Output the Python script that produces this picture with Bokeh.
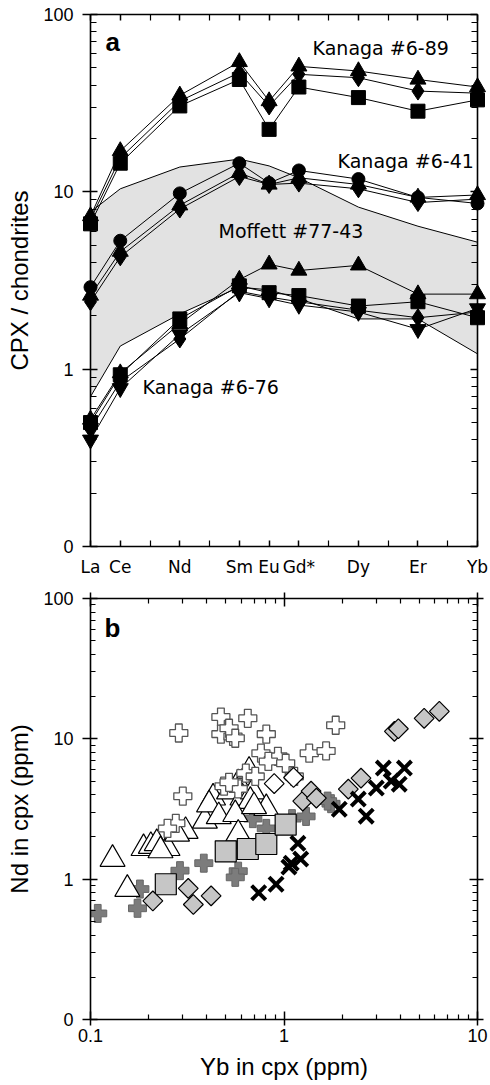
from bokeh.plotting import figure
from bokeh.layouts import column
from bokeh.models import (Range1d, LinearAxis, LogAxis, FixedTicker,
                          CustomJSTickFormatter, Label)
from bokeh.embed import file_html
from bokeh.resources import INLINE

# ---------------- Panel a data ----------------
ree = ["La", "Ce", "Nd", "Sm", "Eu", "Gd*", "Dy", "Er", "Yb"]
ree_z = [57, 58, 60, 62, 63, 64, 66, 68, 70]          # atomic numbers
other_z = [59, 61, 65, 67, 69]                        # unlabeled REE ticks

# Kanaga #6-89
k689_sq = [6.6, 14.5, 30.5, 43.0, 22.5, 39.0, 34.0, 28.5, 33.0]
k689_di = [7.0, 15.5, 32.5, 47.0, 30.5, 46.0, 44.0, 37.0, 36.0]
k689_tr = [7.3, 17.0, 35.0, 54.0, 32.5, 51.0, 48.0, 43.0, 39.0]
# Kanaga #6-41
k641_ci = [2.9, 5.3, 9.8, 14.5, 11.2, 13.2, 11.8, 9.3, 8.6]
k641_di = [2.4, 4.3, 8.0, 12.2, 11.0, 11.2, 10.4, 8.7, 9.1]
k641_tr = [2.6, 4.6, 8.4, 12.8, 11.0, 12.0, 11.0, 9.3, 9.6]
# Kanaga #6-76
k676_sq = [0.50, 0.93, 1.92, 2.95, 2.70, 2.60, 2.27, 2.40, 1.95]
k676_di = [0.46, 0.85, 1.48, 2.75, 2.55, 2.40, 2.15, 1.95, 2.10]
k676_tr = [0.52, 0.95, 1.80, 3.20, 3.90, 3.60, 3.85, 2.65, 2.65]
k676_it = [0.40, 0.78, 1.57, 2.70, 2.50, 2.30, 2.10, 1.68, 2.20]
# Moffett #77-43 field
moff_upper = [7.7, 10.4, 13.8, 15.3, 14.0, 12.0, 8.2, 6.4, 5.2]
moff_lower = [0.70, 1.35, 2.05, 2.90, 2.80, 2.50, 1.92, 1.92, 1.22]

# ---------------- Panel b data (Yb, Nd in cpx, ppm) ----------------
open_plus_yb = [0.286, 0.472, 0.65, 0.472, 0.545, 0.52, 0.81, 1.85, 1.35, 1.65, 0.76, 0.93,
                0.83, 1.02, 0.635, 0.71, 1.13, 0.49, 0.58, 0.30, 0.276, 0.25, 0.56, 0.52]
open_plus_nd = [11.0, 14.3, 14.0, 10.8, 10.4, 11.9, 10.8, 12.5, 7.9, 8.2, 7.9, 7.5,
                6.9, 6.7, 5.7, 5.4, 5.4, 4.6, 4.4, 3.9, 2.5, 2.3, 10.1, 4.9]
open_tri_yb = [0.13, 0.155, 0.188, 0.205, 0.22, 0.25, 0.23, 0.31, 0.28, 0.39, 0.43, 0.41,
               0.46, 0.52, 0.58, 0.61, 0.69, 0.67, 0.56, 0.81, 0.58, 0.66, 0.70]
open_tri_nd = [1.39, 0.85, 1.66, 1.72, 1.80, 1.66, 1.60, 2.2, 2.1, 2.6, 3.8, 3.4,
               2.8, 4.2, 4.8, 3.8, 4.2, 3.6, 2.9, 3.2, 2.1, 5.9, 3.3]
gray_sq_yb = [0.245, 0.50, 0.65, 0.81, 1.02]
gray_sq_nd = [0.92, 1.58, 1.64, 1.78, 2.45]
gray_di_yb = [0.21, 0.32, 0.34, 0.42, 1.25, 1.38, 1.47, 2.15, 2.5, 3.72, 3.9, 5.3, 6.35]
gray_di_nd = [0.70, 0.86, 0.66, 0.76, 3.6, 4.24, 3.78, 4.38, 5.25, 11.3, 11.8, 14.0, 15.7]
open_di_yb = [0.89, 1.12]
open_di_nd = [4.8, 5.3]
gray_plus_yb = [0.109, 0.18, 0.175, 0.29, 0.385, 0.58, 0.56, 0.69, 0.81, 1.10, 1.75, 0.58, 1.3, 1.68]
gray_plus_nd = [0.57, 0.85, 0.62, 1.15, 1.30, 1.14, 1.03, 2.7, 2.3, 2.7, 3.45, 1.9, 2.8, 3.6]
black_x_yb = [0.74, 0.91, 1.09, 1.22, 1.18, 1.06, 1.93, 2.42, 2.66, 3.0, 3.26, 3.58, 3.94, 4.19]
black_x_nd = [0.80, 0.92, 1.30, 1.39, 1.80, 1.22, 3.15, 3.72, 2.81, 4.46, 6.19, 5.0, 4.75, 6.19]

decades = [0.1, 1, 10, 100]
log_minor = [m * 10.0 ** e for e in (-1, 0, 1) for m in range(2, 10)]

NUM_FONT = "Liberation Sans"
HUM_FONT = "DejaVu Sans"

log_fmt_y = CustomJSTickFormatter(code="return tick < 0.5 ? '0' : tick.toFixed(0)")
log_fmt_x = CustomJSTickFormatter(code="return tick < 0.5 ? '0.1' : tick.toFixed(0)")
ree_fmt = CustomJSTickFormatter(args=dict(names=ree, zs=ree_z),
                                code="const i = zs.indexOf(Math.round(tick)); return i >= 0 ? names[i] : ''")


def style_axis(ax, tin, tout, min_in, labels=True):
    ax.axis_line_width = 1.6
    ax.axis_line_color = "black"
    ax.major_tick_line_width = 1.5
    ax.minor_tick_line_width = 1.2
    ax.major_tick_line_color = "black"
    ax.minor_tick_line_color = "black"
    ax.major_tick_in = tin
    ax.major_tick_out = tout
    ax.minor_tick_in = min_in
    ax.minor_tick_out = 0
    ax.major_label_text_color = "black"
    ax.axis_label_text_color = "black"
    if not labels:
        ax.major_label_text_color = None
        ax.major_label_text_font_size = "0px"
        ax.axis_label = None


# ================= Panel a =================
pa = figure(width=490, height=585, x_range=Range1d(57, 70), y_range=Range1d(0.1, 100),
            y_axis_type="log", output_backend="svg", toolbar_location=None,
            min_border_left=90, min_border_right=13, min_border_top=14, min_border_bottom=39)
pa.outline_line_color = None
pa.grid.grid_line_color = None
pa.background_fill_color = "white"

ax = pa.xaxis[0]
ax.ticker = FixedTicker(ticks=ree_z, minor_ticks=other_z)
ax.formatter = ree_fmt
style_axis(ax, 6, 0, 6)
ax.major_label_text_font = HUM_FONT
ax.major_label_text_font_size = "17px"
ax.major_label_standoff = 10

ay = pa.yaxis[0]
ay.ticker = FixedTicker(ticks=decades, minor_ticks=log_minor)
ay.formatter = log_fmt_y
style_axis(ay, 7, 8, 6)
ay.major_label_text_font = NUM_FONT
ay.major_label_text_font_size = "18px"
ay.major_label_standoff = 9
ay.axis_label = "CPX / chondrites"
ay.axis_label_text_font = NUM_FONT
ay.axis_label_text_font_size = "24px"
ay.axis_label_text_font_style = "normal"
ay.axis_label_standoff = 7

top_a = LinearAxis(ticker=FixedTicker(ticks=ree_z, minor_ticks=other_z))
style_axis(top_a, 6, 0, 6, labels=False)
pa.add_layout(top_a, "above")
right_a = LogAxis(ticker=FixedTicker(ticks=decades, minor_ticks=log_minor))
style_axis(right_a, 7, 0, 6, labels=False)
pa.add_layout(right_a, "right")

# Moffett field
pa.patch(ree_z + ree_z[::-1], moff_upper + moff_lower[::-1],
         fill_color="#e2e2e2", line_color="black", line_width=1)

series = [
    (k689_sq, "square", 14), (k689_di, "diamond", 18), (k689_tr, "triangle", 16),
    (k641_ci, "circle", 13), (k641_di, "diamond", 18), (k641_tr, "triangle", 16),
    (k676_sq, "square", 14), (k676_di, "diamond", 18), (k676_tr, "triangle", 16),
    (k676_it, "inverted_triangle", 16),
]
for vals, _, _ in series:
    pa.line(ree_z, vals, line_color="black", line_width=1)
for vals, mk, sz in series:
    pa.scatter(ree_z, vals, marker=mk, size=sz, fill_color="black", line_color="black",
               level="overlay")

for txt, x, y in [("Kanaga #6-89", 64.46, 65.0), ("Kanaga #6-41", 65.3, 14.9),
                  ("Moffett #77-43", 61.3, 6.0), ("Kanaga #6-76", 58.75, 0.79)]:
    pa.add_layout(Label(x=x, y=y, text=txt, text_font=HUM_FONT, text_font_size="19px",
                        text_baseline="middle", text_align="left", text_color="black"))
pa.add_layout(Label(x=57.5, y=70, text="a", text_font=NUM_FONT, text_font_size="26px",
                    text_font_style="bold", text_baseline="middle", text_align="left",
                    text_color="black"))

# ================= Panel b =================
pb = figure(width=490, height=500, x_range=Range1d(0.1, 10), y_range=Range1d(0.1, 100),
            x_axis_type="log", y_axis_type="log", output_backend="svg", toolbar_location=None,
            min_border_left=90, min_border_right=13, min_border_top=13, min_border_bottom=66)
pb.outline_line_color = None
pb.grid.grid_line_color = None

bx = pb.xaxis[0]
bx.ticker = FixedTicker(ticks=decades, minor_ticks=log_minor)
bx.formatter = log_fmt_x
style_axis(bx, 8, 6, 5)
bx.major_label_text_font = NUM_FONT
bx.major_label_text_font_size = "18px"
bx.major_label_standoff = 3
bx.axis_label = "Yb in cpx (ppm)"
bx.axis_label_text_font = NUM_FONT
bx.axis_label_text_font_size = "24px"
bx.axis_label_text_font_style = "normal"
bx.axis_label_standoff = 8

by = pb.yaxis[0]
by.ticker = FixedTicker(ticks=decades, minor_ticks=log_minor)
by.formatter = log_fmt_y
style_axis(by, 7, 8, 5)
by.major_label_text_font = NUM_FONT
by.major_label_text_font_size = "18px"
by.major_label_standoff = 9
by.axis_label = "Nd in cpx (ppm)"
by.axis_label_text_font = NUM_FONT
by.axis_label_text_font_size = "24px"
by.axis_label_text_font_style = "normal"
by.axis_label_standoff = 7

top_b = LogAxis(ticker=FixedTicker(ticks=decades, minor_ticks=log_minor))
style_axis(top_b, 8, 6, 5, labels=False)
pb.add_layout(top_b, "above")
right_b = LogAxis(ticker=FixedTicker(ticks=decades, minor_ticks=log_minor))
style_axis(right_b, 8, 6, 5, labels=False)
pb.add_layout(right_b, "right")

pb.scatter(gray_plus_yb, gray_plus_nd, marker="plus", size=18, fill_color="#7c7c7c",
           line_color="#666666", line_width=1)
pb.scatter(open_tri_yb, open_tri_nd, marker="triangle", size=25, fill_color="white",
           line_color="black", line_width=1.2)
pb.scatter(open_plus_yb, open_plus_nd, marker="plus", size=18, fill_color="white",
           line_color="#555555", line_width=1.3)
pb.scatter(open_di_yb, open_di_nd, marker="square", angle=0.785398, size=14,
           fill_color="white", line_color="black", line_width=1.2)
pb.scatter(gray_sq_yb, gray_sq_nd, marker="square", size=21, fill_color="#c6c6c6",
           line_color="black", line_width=1.2)
pb.scatter(gray_di_yb, gray_di_nd, marker="square", angle=0.785398, size=14,
           fill_color="#c6c6c6", line_color="black", line_width=1.2)
pb.scatter(black_x_yb, black_x_nd, marker="x", size=20, line_color="black", line_width=4)

pb.add_layout(Label(x=0.118, y=61.5, text="b", text_font=NUM_FONT, text_font_size="26px",
                    text_font_style="bold", text_baseline="middle", text_align="left",
                    text_color="black"))

layout = column(pa, pb, spacing=0)
open("out.html", "w").write(file_html(layout, INLINE))
